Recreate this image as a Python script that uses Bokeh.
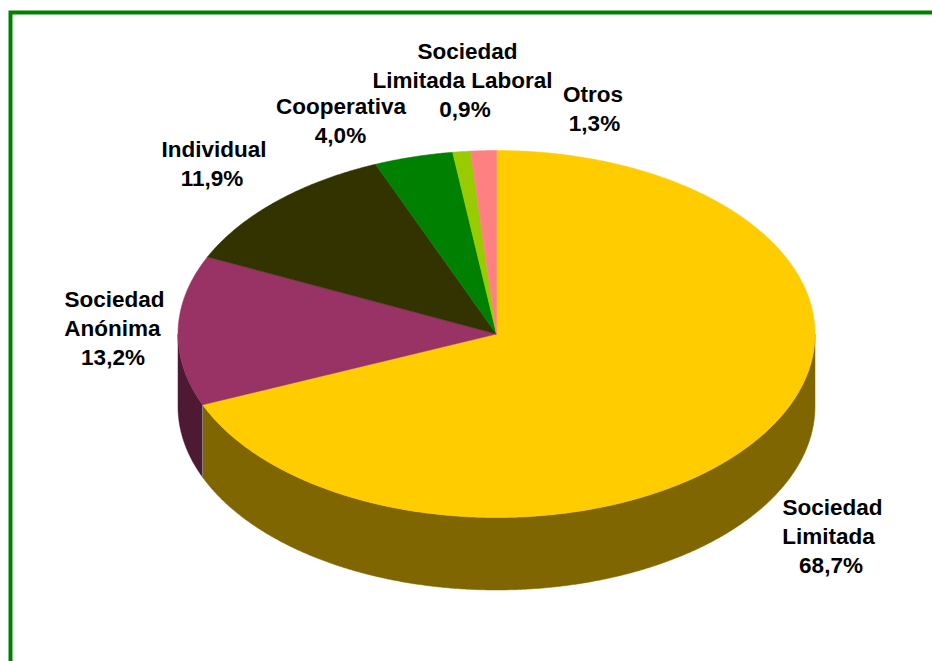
import numpy as np
from bokeh.plotting import figure
from bokeh.models import Range1d
from bokeh.core.properties import value
from bokeh.embed import file_html
from bokeh.resources import INLINE

categories = ["Sociedad Limitada", "Sociedad Anónima", "Individual", "Cooperativa", "Sociedad Limitada Laboral", "Otros"]
shares = [68.7, 13.2, 11.9, 4.0, 0.9, 1.3]
top_colors = ["#FFCC00", "#993366", "#333300", "#008000", "#99CC00", "#FF8080"]
side_colors = ["#806600", "#4D1933", "#1A1A00", "#004000", "#4D6600", "#804040"]
label_lines = [
    ["Sociedad", "Limitada", "68,7%"],
    ["Sociedad", "Anónima", "13,2%"],
    ["Individual", "11,9%"],
    ["Cooperativa", "4,0%"],
    ["Sociedad", "Limitada Laboral", "0,9%"],
    ["Otros", "1,3%"],
]
# layout: centre x of each line, and y of the first line
label_x = [[832, 828, 830.5], [114, 112, 112.5], [213.5, 211.5], [340.5, 340], [467, 462, 464.5], [592.5, 594]]
label_y = [507, 298.5, 148.5, 105.5, 50.5, 94]
line_gap = 29

CX, CY, RX, RY, DEPTH = 496, 333.5, 318.5, 183.5, 72.5

p = figure(width=932, height=661, output_backend="svg", toolbar_location=None,
           x_range=Range1d(0, 932), y_range=Range1d(661, 0),
           min_border=0, outline_line_color=None, background_fill_color="white")
p.axis.visible = False
p.grid.visible = False

def arc(a0, a1, dy=0.0):
    n = max(int(abs(a1 - a0) * 200), 3)
    t = np.linspace(a0, a1, n)
    return CX + RX * np.sin(t), CY - RY * np.cos(t) + dy

fracs = np.cumsum([0.0] + shares) / sum(shares) * 2 * np.pi

# side walls (only the front half of the rim is visible)
for i in range(len(shares)):
    a0, a1 = max(fracs[i], np.pi / 2), min(fracs[i + 1], 3 * np.pi / 2)
    if a1 > a0:
        x0, y0 = arc(a0, a1)
        x1, y1 = arc(a1, a0, DEPTH)
        p.patch(np.r_[x0, x1], np.r_[y0, y1], fill_color=side_colors[i], line_color=side_colors[i], line_width=0.5)

# separator on the rim
xs, ys = arc(fracs[1], fracs[1])
p.line([xs[0], xs[0]], [ys[0], ys[0] + DEPTH], line_color="#8A8A8A", line_width=1)

# top face
for i in range(len(shares)):
    x, y = arc(fracs[i], fracs[i + 1])
    p.patch(np.r_[CX, x], np.r_[CY, y], fill_color=top_colors[i], line_color=top_colors[i], line_width=0.5)

# labels
for lines, xs_, y0 in zip(label_lines, label_x, label_y):
    for j, (line, lx) in enumerate(zip(lines, xs_)):
        p.text([lx], [y0 + j * line_gap], text=[line], text_align="center", text_baseline="middle",
               text_font=value("Liberation Sans"), text_font_style="bold", text_font_size="22.5px",
               text_color="#000000")

# frame
p.line([10, 10, 932], [661, 12, 12], line_color="#008000", line_width=4, line_join="miter")

open("out.html", "w").write(file_html(p, INLINE))
